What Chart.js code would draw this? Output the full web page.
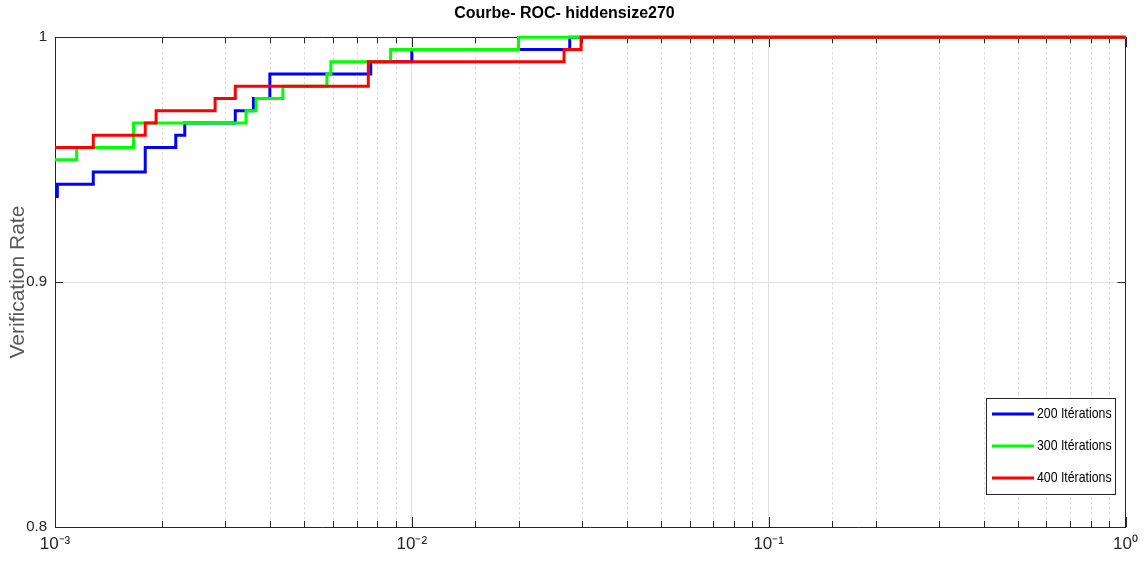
<!DOCTYPE html>
<html><head><meta charset="utf-8">
<script src="https://cdn.jsdelivr.net/npm/chart.js@4/dist/chart.umd.min.js"></script>
<style>html,body{margin:0;padding:0;background:#fff}#wrap{width:1145px;height:567px;position:relative}</style>
</head><body><div id="wrap"><canvas id="c"></canvas></div>
<script>
const chartTitle = 'Courbe- ROC- hiddensize270';
const yAxisTitle = 'Verification Rate';
const seriesLabels = ['200 Itérations', '300 Itérations', '400 Itérations'];
const seriesColors = ['#0000ff', '#00ff00', '#ff0000'];

// false-positive rate (x) and verification rate (y) at each step
const fpr200 = [0.001, 0.001015, 0.00128, 0.00179, 0.00218, 0.00231, 0.0032, 0.0036, 0.0040, 0.00767, 0.0100, 0.0277, 1];
const tpr200 = [0.935, 0.940, 0.945, 0.955, 0.960, 0.965, 0.970, 0.975, 0.985, 0.990, 0.995, 1.000, 1.000];

const fpr300 = [0.001, 0.00115, 0.00166, 0.00343, 0.00366, 0.00435, 0.00578, 0.00593, 0.00872, 0.0199, 1];
const tpr300 = [0.950, 0.955, 0.965, 0.970, 0.975, 0.980, 0.985, 0.990, 0.995, 1.000, 1.000];

const fpr400 = [0.001, 0.00128, 0.00179, 0.00192, 0.00281, 0.0032, 0.00755, 0.0267, 0.0298, 1];
const tpr400 = [0.955, 0.960, 0.965, 0.970, 0.975, 0.980, 0.990, 0.995, 1.000, 1.000];

const xMajorValues = [0.001, 0.01, 0.1, 1];
const xTickLabels = ['10⁻³', '10⁻²', '10⁻¹', '10⁰'];
const yTickValues = [0.8, 0.9, 1];
const yTickLabels = ['0.8', '0.9', '1'];

const FONT = "'Liberation Sans', Arial, sans-serif";
const AXIS_COLOR = '#262626';

function isMajor(v) { const l = Math.log10(v); return Math.abs(l - Math.round(l)) < 1e-6; }
function pts(xs, ys) { return xs.map((x, i) => ({ x: x, y: ys[i] })); }

const series = [pts(fpr200, tpr200), pts(fpr300, tpr300), pts(fpr400, tpr400)];

const matlabAxes = {
  id: 'matlabAxes',
  beforeDatasetsDraw(chart) {
    const ctx = chart.ctx, ca = chart.chartArea, xs = chart.scales.x, ys = chart.scales.y;
    ctx.save();
    // minor dotted grid
    ctx.strokeStyle = '#d4d4d4'; ctx.lineWidth = 1; ctx.setLineDash([2, 3]);
    xs.ticks.forEach(t => {
      if (isMajor(t.value)) return;
      const px = Math.round(xs.getPixelForValue(t.value)) + 0.5;
      ctx.beginPath(); ctx.moveTo(px, ca.top); ctx.lineTo(px, ca.bottom); ctx.stroke();
    });
    ctx.setLineDash([]);
    // tick marks (inward, bottom and top)
    ctx.strokeStyle = AXIS_COLOR;
    xs.ticks.forEach(t => {
      const px = Math.round(xs.getPixelForValue(t.value)) + 0.5;
      const len = isMajor(t.value) ? 10 : 6;
      ctx.beginPath();
      ctx.moveTo(px, ca.bottom); ctx.lineTo(px, ca.bottom - len);
      ctx.moveTo(px, ca.top); ctx.lineTo(px, ca.top + len);
      ctx.stroke();
    });
    ys.ticks.forEach(t => {
      const py = Math.round(ys.getPixelForValue(t.value)) + 0.5;
      ctx.beginPath();
      ctx.moveTo(ca.left, py); ctx.lineTo(ca.left + 8, py);
      ctx.moveTo(ca.right, py); ctx.lineTo(ca.right - 8, py);
      ctx.stroke();
    });
    // box top & right
    ctx.beginPath();
    ctx.moveTo(ca.left, Math.round(ca.top) + 0.5); ctx.lineTo(ca.right, Math.round(ca.top) + 0.5);
    ctx.moveTo(Math.round(ca.right) - 0.5, ca.top); ctx.lineTo(Math.round(ca.right) - 0.5, ca.bottom);
    ctx.stroke();
    ctx.restore();
  },
  afterDatasetsDraw(chart) {
    const ctx = chart.ctx, ca = chart.chartArea;
    const bw = 129, bh = 96;
    const bx = Math.round(ca.right - 11 - bw), by = Math.round(ca.bottom - 33 - bh);
    ctx.save();
    ctx.fillStyle = '#fff';
    ctx.fillRect(bx, by, bw, bh);
    ctx.strokeStyle = AXIS_COLOR; ctx.lineWidth = 1;
    ctx.strokeRect(bx + 0.5, by + 0.5, bw, bh);
    ctx.font = "15px " + FONT;
    ctx.textBaseline = 'middle'; ctx.textAlign = 'left';
    chart.data.datasets.forEach((ds, i) => {
      const cy = by + bh * (2 * i + 1) / 6;
      ctx.strokeStyle = ds.borderColor; ctx.lineWidth = 3;
      ctx.beginPath(); ctx.moveTo(bx + 6, cy); ctx.lineTo(bx + 48, cy); ctx.stroke();
      ctx.fillStyle = '#000';
      ctx.save();
      ctx.translate(bx + 51, cy);
      ctx.scale(0.82, 1);
      ctx.fillText(ds.label, 0, 0);
      ctx.restore();
    });
    ctx.restore();
  }
};

new Chart(document.getElementById('c'), {
  type: 'line',
  data: {
    datasets: series.map((d, i) => ({
      label: seriesLabels[i],
      data: d,
      borderColor: seriesColors[i],
      backgroundColor: seriesColors[i],
      borderWidth: 3,
      stepped: 'before',
      pointRadius: 0,
      fill: false,
      clip: 4,
      order: series.length - 1 - i
    }))
  },
  options: {
    responsive: true,
    maintainAspectRatio: false,
    animation: false,
    devicePixelRatio: 1,
    layout: { padding: { right: 16, left: 0, top: 0, bottom: 0 } },
    plugins: {
      legend: { display: false },
      tooltip: { enabled: false },
      title: {
        display: true,
        text: chartTitle,
        color: '#000',
        font: { family: FONT, size: 16, weight: 'bold' },
        padding: { top: 4, bottom: 14 }
      }
    },
    scales: {
      x: {
        type: 'logarithmic',
        min: 0.001,
        max: 1,
        afterFit(s) { s.height = 40; },
        grid: {
          drawTicks: false,
          color: c => (c.tick && isMajor(c.tick.value)) ? '#e0e0e0' : 'rgba(0,0,0,0)',
          lineWidth: 1
        },
        border: { color: AXIS_COLOR, width: 1 },
        ticks: {
          autoSkip: false,
          maxRotation: 0,
          padding: 7,
          color: AXIS_COLOR,
          font: { family: FONT, size: 17 },
          callback(v) {
            const idx = xMajorValues.findIndex(m => Math.abs(Math.log10(m) - Math.log10(v)) < 1e-6);
            return idx >= 0 ? xTickLabels[idx] : '';
          }
        }
      },
      y: {
        type: 'linear',
        min: 0.8,
        max: 1,
        afterFit(s) { s.width = 55; },
        afterBuildTicks(s) { s.ticks = yTickValues.map(v => ({ value: v })); },
        grid: { drawTicks: false, color: '#e0e0e0', lineWidth: 1 },
        border: { color: AXIS_COLOR, width: 1 },
        title: {
          display: true,
          text: yAxisTitle,
          color: '#595959',
          font: { family: FONT, size: 21 },
          padding: { top: 6, bottom: 0 }
        },
        ticks: {
          padding: 8,
          color: AXIS_COLOR,
          font: { family: FONT, size: 15 },
          callback(v) {
            const idx = yTickValues.findIndex(m => Math.abs(m - v) < 1e-9);
            return idx >= 0 ? yTickLabels[idx] : '';
          }
        }
      }
    }
  },
  plugins: [matlabAxes]
});
</script>
</body></html>
